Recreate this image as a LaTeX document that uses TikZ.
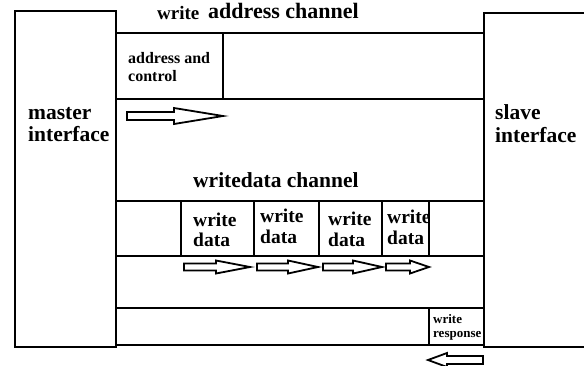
\documentclass[tikz,border=0pt]{standalone}
\usepackage{fontspec}
\setmainfont{Liberation Serif}
\begin{document}
\begin{tikzpicture}[x=1pt,y=-1pt,
  wire/.style={line width=2.4pt, line cap=rect},
  blk/.style={line width=1.8pt, line join=miter, fill=white},
  lbl/.style={anchor=base west, inner sep=0pt, font=\bfseries},
]
\useasboundingbox (0,0) rectangle (584,365);
% master and slave boxes
\draw[wire] (15,11) rectangle (116,347);
\draw[wire] (590,13) -- (484,13) -- (484,347) -- (590,347);
% write address channel
\draw[wire] (116,33) -- (484,33);
\draw[wire] (116,99) -- (484,99);
\draw[wire] (223,33) -- (223,99);
% write data channel
\draw[wire] (116,201) -- (484,201);
\draw[wire] (116,256) -- (484,256);
\foreach \xx in {181,254,319,382,429} \draw[wire] (\xx,201) -- (\xx,256);
% write response channel
\draw[wire] (116,308) -- (484,308);
\draw[wire] (116,345) -- (484,345);
\draw[wire] (429,308) -- (429,345);
% block arrows
\newcommand{\blkarrowr}[6]{\draw[blk] (#1,#4-#5) -- (#2,#4-#5) -- (#2,#4-#6) -- (#3,#4) -- (#2,#4+#6) -- (#2,#4+#5) -- (#1,#4+#5) -- cycle;}
\blkarrowr{127}{174}{223}{116}{4}{8}
\blkarrowr{184}{216}{250}{267}{3.5}{6.5}
\blkarrowr{257}{288}{318}{267}{3.5}{6.5}
\blkarrowr{323}{353}{382}{267}{3.5}{6.5}
\blkarrowr{386}{410}{429}{267}{3.5}{6.5}
\blkarrowr{483}{447}{428}{360}{4}{7}
% texts
\node[lbl, font=\bfseries\fontsize{19}{21}\selectfont] (tw) at (157,19) {write};
\node[lbl, font=\bfseries\fontsize{22}{24}\selectfont] (tac) at (208,18) {address channel};
\node[lbl, font=\bfseries\fontsize{16}{18}\selectfont] (ac1) at (128,63) {address and};
\node[lbl, font=\bfseries\fontsize{16}{18}\selectfont] (ac2) at (128,81) {control};
\node[lbl, font=\bfseries\fontsize{21.5}{23}\selectfont] (m1) at (28,119) {master};
\node[lbl, font=\bfseries\fontsize{21.5}{23}\selectfont] (m2) at (28,141) {interface};
\node[lbl, font=\bfseries\fontsize{21.5}{23}\selectfont] (s1) at (495,119) {slave};
\node[lbl, font=\bfseries\fontsize{21.5}{23}\selectfont] (s2) at (495,142) {interface};
\node[lbl, font=\bfseries\fontsize{21.5}{23}\selectfont] (wdc) at (193,187) {writedata channel};
\tikzset{cell/.style={lbl, font=\bfseries\fontsize{19.5}{21}\selectfont}}
\node[cell] (c1a) at (193,226) {write};
\node[cell] (c1b) at (193,246) {data};
\node[cell] (c2a) at (260,222) {write};
\node[cell] (c2b) at (260,243) {data};
\node[cell] (c3a) at (328,225) {write};
\node[cell] (c3b) at (328,246) {data};
\node[cell] (c4a) at (387,223) {write};
\node[cell] (c4b) at (387,244) {data};
\node[lbl, font=\bfseries\fontsize{13}{14}\selectfont] (wr1) at (433,323) {write};
\node[lbl, font=\bfseries\fontsize{13}{14}\selectfont] (wr2) at (433,337) {response};
\end{tikzpicture}
\end{document}
